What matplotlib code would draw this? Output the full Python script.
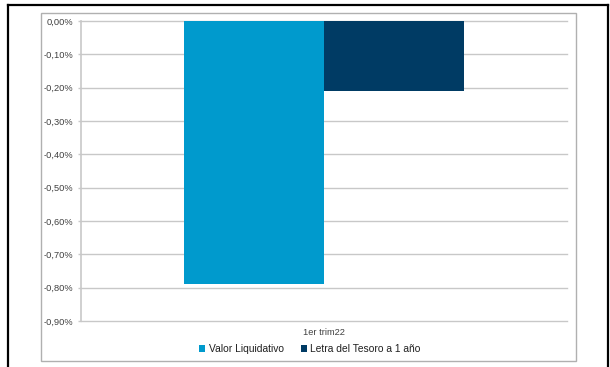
import matplotlib
matplotlib.use("Agg")
import matplotlib.pyplot as plt
from matplotlib.patches import Rectangle
from matplotlib.ticker import FuncFormatter

categories = ["1er trim22"]
series_names = ["Valor Liquidativo", "Letra del Tesoro a 1 año"]
series_values = [[-0.79], [-0.21]]
series_colors = ["#009ACD", "#003B64"]
y_ticks = [0.0, -0.1, -0.2, -0.3, -0.4, -0.5, -0.6, -0.7, -0.8, -0.9]

plt.rcParams["font.family"] = ["Liberation Sans", "DejaVu Sans"]

W, H = 610, 367
fig = plt.figure(figsize=(W / 100, H / 100), dpi=100)

# outer frame (open at the bottom) and inner chart-area frame
frame_kw = dict(transform=fig.transFigure, color="black", lw=1.6)
fig.add_artist(plt.Line2D([8 / W, 8 / W], [0, 1 - 5 / H], **frame_kw))
fig.add_artist(plt.Line2D([8 / W, 608 / W], [1 - 5 / H, 1 - 5 / H], **frame_kw))
fig.add_artist(plt.Line2D([608 / W, 608 / W], [0, 1 - 5 / H], **frame_kw))
fig.add_artist(Rectangle((41 / W, 1 - 361 / H), (576 - 41) / W, (361 - 13) / H,
                         transform=fig.transFigure, fill=False, edgecolor="#B0B0B0", lw=1.0))

left, right, top, bottom = 81, 567, 21, 321
ax = fig.add_axes([left / W, 1 - bottom / H, (right - left) / W, (bottom - top) / H])

x = list(range(len(categories)))
bar_w = 0.288
n = len(series_names)
for i, (name, vals, col) in enumerate(zip(series_names, series_values, series_colors)):
    offs = [xi + (i - (n - 1) / 2) * bar_w for xi in x]
    ax.bar(offs, vals, width=bar_w, color=col, label=name, zorder=3)

ax.set_xlim(-0.5, len(categories) - 0.5)
ax.set_ylim(-0.9, 0.0)
ax.set_yticks(y_ticks)
ax.yaxis.set_major_formatter(FuncFormatter(lambda v, p: f"{v:.2f}%".replace(".", ",").replace("-0,00", "0,00")))
ax.set_xticks(x)
ax.set_xticklabels(categories)
ax.grid(axis="y", color="#C8C8C8", lw=1.0, zorder=0)
for gl in ax.get_ygridlines():
    gl.set_clip_on(False)
for s in ["top", "right", "bottom"]:
    ax.spines[s].set_visible(False)
ax.spines["left"].set_color("#C8C8C8")
ax.spines["left"].set_linewidth(1.2)
ax.tick_params(axis="y", length=2.2, width=1.0, color="#C8C8C8", labelsize=6.7, labelcolor="#404040", pad=3.6)
ax.tick_params(axis="x", length=0, labelsize=6.7, labelcolor="#404040", pad=5)

leg = fig.legend(loc="center", bbox_to_anchor=(310 / W, 1 - 349 / H), ncol=2, frameon=False,
                 fontsize=7.4, handlelength=0.6, handleheight=0.6, handletextpad=0.35,
                 columnspacing=1.6, labelcolor="#202020")

fig.savefig("out.png", dpi=100)
